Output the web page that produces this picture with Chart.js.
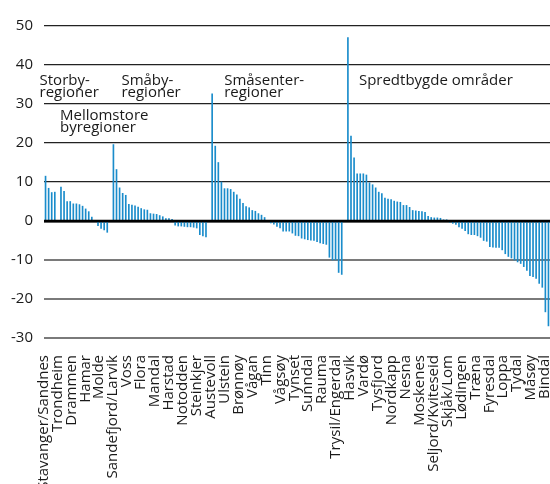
<!DOCTYPE html>
<html>
<head>
<meta charset="utf-8">
<script src="https://cdn.jsdelivr.net/npm/chart.js@4.4.1/dist/chart.umd.min.js"></script>
<style>
html, body { margin: 0; padding: 0; background: #fff; }
</style>
</head>
<body>
<canvas id="growthChart" width="550" height="484"></canvas>
<script>
// values per region type, sorted high -> low (percent)
var storby = [11.5, 8.4, 7.3, 7.4];
var mellomstore = [8.7, 7.6, 5.0, 5.0, 4.4, 4.4, 4.2, 3.8, 3.1, 2.4, 1.0, 0, -1.2, -1.9, -2.3, -2.9];
var smaaby = [19.6, 13.2, 8.5, 7.1, 6.6, 4.3, 4.1, 3.9, 3.6, 3.2, 2.9, 2.8, 1.9, 1.8, 1.7, 1.4, 1.1, 0.6, 0.6, 0.4,
              -1.1, -1.3, -1.3, -1.4, -1.5, -1.5, -1.6, -1.8, -3.5, -3.8, -4.1];
var smaasenter = [32.6, 19.2, 15.0, 10.0, 8.3, 8.3, 8.1, 7.4, 6.7, 5.6, 4.5, 3.7, 3.4, 2.7, 2.5, 1.9, 1.5, 0.9, 0,
                  -0.5, -0.8, -1.4, -1.8, -2.6, -2.6, -2.6, -3.1, -3.7, -3.8, -4.4, -4.6, -4.8, -4.9, -5.0, -5.3,
                  -5.6, -5.8, -6.0, -9.3, -10.0, -10.0, -13.2, -13.7];
var spredtbygde = [47.0, 21.8, 16.2, 12.1, 12.1, 12.1, 11.8, 9.8, 9.3, 8.5, 7.4, 7.0, 5.9, 5.6, 5.5, 5.1, 4.9, 4.8,
                   4.0, 4.0, 3.5, 2.7, 2.6, 2.5, 2.4, 2.2, 1.2, 0.9, 0.8, 0.8, 0.7, 0.3, 0.1, -0.1,
                   -0.6, -0.9, -1.5, -1.9, -2.5, -3.3, -3.5, -3.5, -3.8, -4.2, -5.0, -5.2, -6.6, -6.7, -6.8, -6.8,
                   -7.4, -8.4, -9.1, -9.5, -10.0, -10.5, -10.9, -11.7, -12.7, -14.0, -14.3, -14.7, -16.0, -17.0,
                   -23.3, -26.9];

var regionLabels = ["Stavanger/Sandnes", "Trondheim", "Drammen", "Hamar", "Molde", "Sandefjord/Larvik", "Voss",
  "Flora", "Mandal", "Harstad", "Notodden", "Steinkjer", "Austevoll", "Ulstein", "Brønnøy", "Vågan", "Tinn",
  "Vågsøy", "Tynset", "Sunndal", "Rauma", "Trysil/Engerdal", "Hasvik", "Vardø", "Tysfjord", "Nordkapp", "Nesna",
  "Moskenes", "Seljord/Kviteseid", "Skjåk/Lom", "Lødingen", "Træna", "Fyresdal", "Loppa", "Tydal", "Måsøy", "Bindal"];

var yTicks = [-30, -20, -10, 0, 10, 20, 30, 40, 50];

var groupNames = [["Storby-", "regioner"], ["Mellomstore", "byregioner"], ["Småby-", "regioner"],
                  ["Småsenter-", "regioner"], ["Spredtbygde områder"]];

// one empty category between the groups
var gap = [null];
var values = [].concat(storby, gap, mellomstore, gap, smaaby, gap, smaasenter, gap, spredtbygde);
var barKeys = values.map(function (v, i) { return "c" + i; });

var groupStart = [0, storby.length + 1];
groupStart.push(groupStart[1] + mellomstore.length + 1);
groupStart.push(groupStart[2] + smaaby.length + 1);
groupStart.push(groupStart[3] + smaasenter.length + 1);

var txtColor = "#1a1a1a";
var barColor = "#1a8ccb";

// text placement: [group, px offset from group start bar, y value of first baseline]
var notePos = [[0, -6, 34.9], [1, -1, 26.0], [2, 8, 34.9], [3, 12, 34.9], [4, 11, 34.9]];

var groupNotes = {
  id: "groupNotes",
  afterLayout: function (chart) {
    // region names run a bit short of the right edge
    var s = chart.scales.xl, a = chart.chartArea;
    s._startPixel = a.left - 0.5;
    s._endPixel = a.right - 5;
    s._length = s._endPixel - s._startPixel;
  },
  afterDatasetsDraw: function (chart) {
    var c = chart.ctx, xs = chart.scales.x, ys = chart.scales.y;
    // zero line over the bars
    var y0 = ys.getPixelForValue(0);
    c.save();
    c.strokeStyle = "#000";
    c.lineWidth = 2.5;
    c.beginPath();
    c.moveTo(chart.chartArea.left, y0);
    c.lineTo(chart.chartArea.right, y0);
    c.stroke();

    c.fillStyle = txtColor;
    c.font = "15px 'Open Sans'";
    c.textAlign = "left";
    c.textBaseline = "alphabetic";
    notePos.forEach(function (p) {
      var x = xs.getPixelForValue(groupStart[p[0]]) + p[1];
      var y = ys.getPixelForValue(p[2]);
      groupNames[p[0]].forEach(function (line, k) {
        c.fillText(line, x, y + k * 12);
      });
    });
    c.restore();
  }
};

var ctx = document.getElementById("growthChart").getContext("2d");
var growthChart = new Chart(ctx, {
  type: "bar",
  data: {
    labels: barKeys,
    datasets: [{
      data: values,
      backgroundColor: barColor,
      borderWidth: 0,
      barThickness: 1,
      xAxisID: "x",
      yAxisID: "y"
    }]
  },
  options: {
    responsive: false,
    animation: false,
    devicePixelRatio: 1,
    layout: { padding: { top: 26, right: 0, bottom: 0, left: 0 } },
    plugins: { legend: { display: false }, tooltip: { enabled: false } },
    scales: {
      x: { type: "category", display: false, offset: true },
      xl: {
        type: "category",
        labels: regionLabels,
        position: "bottom",
        offset: false,
        grid: { display: false },
        border: { display: false },
        ticks: {
          autoSkip: false, maxRotation: 90, minRotation: 90, padding: 9,
          color: txtColor, font: { family: "Open Sans", size: 15 }
        },
        afterFit: function (s) { s.height = 146; s.paddingLeft = 0; s.paddingRight = 0; }
      },
      y: {
        min: yTicks[0],
        max: yTicks[yTicks.length - 1],
        afterBuildTicks: function (s) { s.ticks = yTicks.map(function (v) { return { value: v }; }); },
        border: { display: false },
        grid: {
          drawTicks: false,
          color: function (c) { return c.tick.value > 0 ? "#222" : (c.tick.value === 0 ? "#000" : "#7a7a7a"); },
          lineWidth: function (c) { return c.tick.value > 0 ? 1.2 : (c.tick.value === 0 ? 2.5 : 2); }
        },
        ticks: { padding: 11, color: txtColor, font: { family: "Open Sans", size: 15 } },
        afterFit: function (s) { s.width = 44; }
      }
    }
  },
  plugins: [groupNotes]
});
</script>
</body>
</html>
